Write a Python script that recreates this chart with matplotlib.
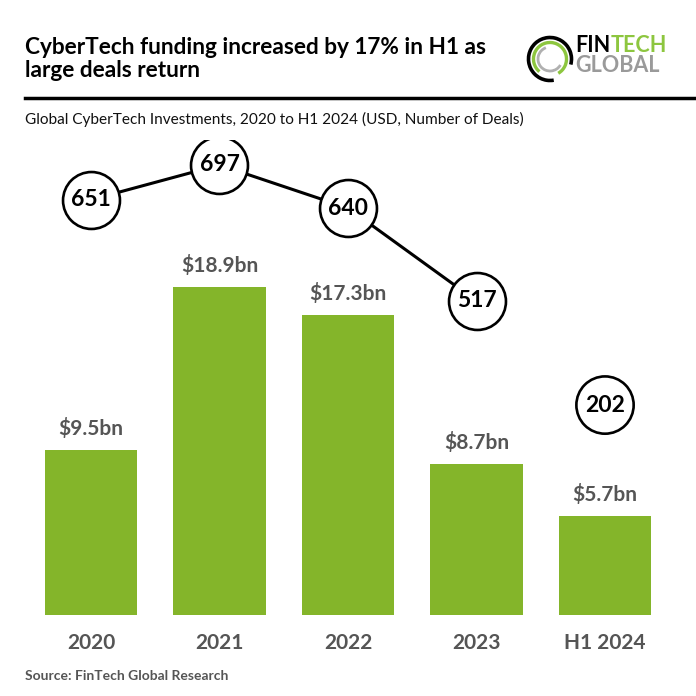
import matplotlib.pyplot as plt
from matplotlib.patches import Arc

# data
years = ['2020', '2021', '2022', '2023', 'H1 2024']
funding_bn = [9.5, 18.9, 17.3, 8.7, 5.7]
funding_labels = ['$9.5bn', '$18.9bn', '$17.3bn', '$8.7bn', '$5.7bn']
deals = [651, 697, 640, 517, 202]

GREEN = '#84b52a'
LOGO_GREEN = '#8dc63f'
DARK_GREY = '#555555'
FONT = ['Lato', 'DejaVu Sans']

plt.rcParams['font.family'] = FONT

W = H = 696
fig = plt.figure(figsize=(6.96, 6.96), dpi=100)


def px(x, y):
    # pixel (from top-left) -> figure fraction
    return x / W, 1 - y / H


# main axis: bars
ax = fig.add_axes([0.0, 0.1164, 1.0, 0.6825])
x = list(range(len(years)))
ax.bar(x, funding_bn, width=0.72, color=GREEN)
ax.set_xlim(-0.708, 4.708)
ax.set_ylim(0, 27.4)
for xi, v, lab in zip(x, funding_bn, funding_labels):
    ax.annotate(lab, (xi, v), xytext=(0, 8), textcoords='offset points',
                ha='center', va='bottom', fontsize=15, fontweight='bold',
                color=DARK_GREY)
ax.set_xticks(x)
ax.set_xticklabels(years, fontsize=15, fontweight='bold', color=DARK_GREY)
ax.tick_params(axis='x', length=0, pad=13)
ax.set_yticks([])
for s in ax.spines.values():
    s.set_visible(False)

# secondary axis: deal counts (full years connected)
ax2 = ax.twinx()
ax2.set_ylim(101.4, 730.1)
ax2.plot(x[:4], deals[:4], color='black', lw=2.2, zorder=1)
ax2.plot(x[:4], deals[:4], 'o', ms=41, mfc='white', mec='black', mew=1.9,
         zorder=2)
for xi, d in zip(x[:4], deals[:4]):
    ax2.text(xi, d, str(d), ha='center', va='center', fontsize=16.5,
             fontweight='bold', zorder=3)
ax2.set_yticks([])
for s in ax2.spines.values():
    s.set_visible(False)

# H1 2024 deal count sits above its bar
ax.annotate(str(deals[4]), (x[4], funding_bn[4]), xytext=(0, 80),
            textcoords='offset points', ha='center', va='center',
            fontsize=16.5, fontweight='bold',
            bbox=dict(boxstyle='circle,pad=0.38', fc='white', ec='black',
                      lw=1.9))

# header
fig.text(*px(25, 37), 'CyberTech funding increased by 17% in H1 as\nlarge deals return',
         fontsize=16.3, fontweight='bold', va='top', ha='left',
         linespacing=1.1)
fig.add_artist(plt.Line2D([25 / W, 1.0], [1 - 98 / H] * 2, color='black',
                          lw=2.5, transform=fig.transFigure))
fig.text(*px(25, 119), 'Global CyberTech Investments, 2020 to H1 2024 (USD, Number of Deals)',
         fontsize=11.1, va='center', ha='left', color='#111111')
fig.text(*px(25, 676), 'Source: FinTech Global Research', fontsize=10,
         fontweight='bold', color=DARK_GREY, va='center', ha='left')

# logo: rings
logo = fig.add_axes([520 / W, 1 - 90 / H, 60 / W, 60 / H])
logo.set_xlim(520, 580)
logo.set_ylim(90, 30)
logo.axis('off')
logo.add_patch(Arc((550, 59), 43, 43, theta1=80, theta2=15, color='black', lw=2.6))
logo.add_patch(Arc((550, 59), 33, 33, theta1=130, theta2=60, color=LOGO_GREEN, lw=2.4))
logo.add_patch(Arc((550, 59), 24, 24, theta1=30, theta2=250, color='#b0b0b0', lw=2.0))

# logo: wordmark
t_fin = fig.text(*px(575, 46), 'FIN', fontsize=15.5, fontweight='bold',
                 color='black', va='center', ha='left')
fig.canvas.draw()
bb = t_fin.get_window_extent()
fig.text(bb.x1 / W, 1 - 46 / H, 'TECH', fontsize=15.5, fontweight='bold',
         color=LOGO_GREEN, va='center', ha='left')
fig.text(*px(575, 65), 'GLOBAL', fontsize=15.5, fontweight='bold',
         color='#9a9a9a', va='center', ha='left')

fig.savefig('out.png', dpi=100)
